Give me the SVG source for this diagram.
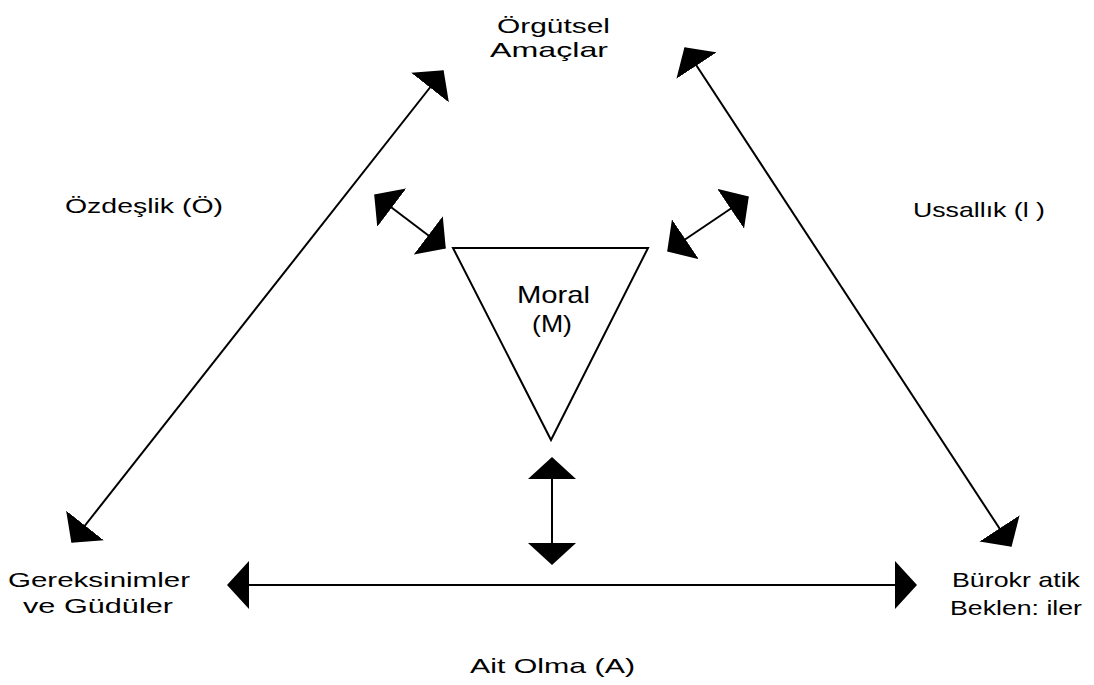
<svg xmlns="http://www.w3.org/2000/svg" width="1094" height="685" viewBox="0 0 1094 685">
  <style>
    .lbl { font-family: "Liberation Sans", "DejaVu Sans", sans-serif; font-size: 21px; fill: #000; }
    .big { font-size: 24px; }
    .conn { stroke: #000; stroke-width: 2; fill: none; marker-start: url(#head); marker-end: url(#head); }
    .tri { fill: #fff; stroke: #000; stroke-width: 2; }
  </style>
  <defs>
    <!-- wide, flat filled arrowhead; tip sits at the line end -->
    <marker id="head" viewBox="0 -24 22 48" refX="21" refY="0" markerWidth="22" markerHeight="48" markerUnits="userSpaceOnUse" orient="auto-start-reverse">
      <path d="M0,-24 L22,0 L0,24 Z" fill="#000"/>
    </marker>
  </defs>
  <rect width="1094" height="685" fill="#fff"/>

  <g id="connectors">
    <line class="conn" x1="72" y1="542" x2="443" y2="71"/>
    <line class="conn" x1="685" y1="48" x2="1011" y2="546"/>
    <line class="conn" x1="228" y1="585" x2="916" y2="585"/>
    <line class="conn" x1="552" y1="458" x2="552" y2="564"/>
    <line class="conn" x1="375" y1="195" x2="445" y2="248"/>
    <line class="conn" x1="668" y1="251" x2="748" y2="197"/>
  </g>

  <g id="orgutsel-amaclar">
    <text class="lbl" x="497" y="33" textLength="113" lengthAdjust="spacingAndGlyphs">Örgütsel</text>
    <text class="lbl" x="490" y="57" textLength="118" lengthAdjust="spacingAndGlyphs">Amaçlar</text>
  </g>

  <g id="moral">
    <polygon class="tri" points="453,248 648,248 551,440"/>
    <text class="lbl big" x="517" y="303" textLength="73" lengthAdjust="spacingAndGlyphs">Moral</text>
    <text class="lbl big" x="532" y="332" textLength="40" lengthAdjust="spacingAndGlyphs">(M)</text>
  </g>

  <g id="ozdeslik">
    <text class="lbl" x="65" y="213" textLength="158" lengthAdjust="spacingAndGlyphs">Özdeşlik (Ö)</text>
  </g>

  <g id="ussallik">
    <text class="lbl" x="913" y="217" textLength="132" lengthAdjust="spacingAndGlyphs">Ussallık (l )</text>
  </g>

  <g id="gereksinimler">
    <text class="lbl" x="8" y="587" textLength="182" lengthAdjust="spacingAndGlyphs">Gereksinimler</text>
    <text class="lbl" x="23" y="613" textLength="150" lengthAdjust="spacingAndGlyphs">ve Güdüler</text>
  </g>

  <g id="burokratik">
    <text class="lbl" x="952" y="587" textLength="128" lengthAdjust="spacingAndGlyphs">Bürokr atik</text>
    <text class="lbl" x="950" y="615" textLength="132" lengthAdjust="spacingAndGlyphs">Beklen: iler</text>
  </g>

  <g id="ait-olma">
    <text class="lbl" x="470" y="673" font-size="22" textLength="165" lengthAdjust="spacingAndGlyphs">Ait Olma (A)</text>
  </g>
</svg>
